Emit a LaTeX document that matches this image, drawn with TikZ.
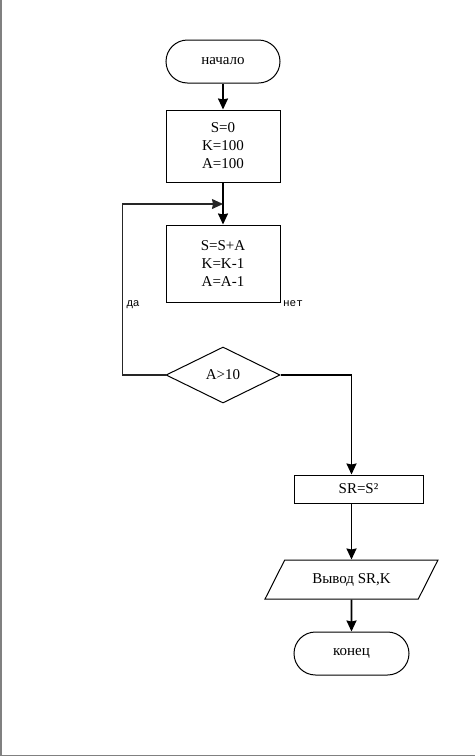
\documentclass[tikz,border=0pt]{standalone}
\usepackage{fontspec}
\setmainfont{Liberation Serif}
\setsansfont{Liberation Sans}
\setmonofont{Liberation Mono}
\usetikzlibrary{shapes.geometric, arrows.meta}

\begin{document}
\begin{tikzpicture}[x=1pt,y=-1pt,font=\fontsize{15}{18}\selectfont]
    \tikzstyle{arrow} = [line width=1.6pt,-{Stealth[length=11pt,width=10pt,inset=1pt]}]
    \tikzstyle{loopline} = [line width=1.2pt,draw=black!85]
    \tikzstyle{startstop} = [rectangle, rounded corners=21.5pt, minimum width=114pt, minimum height=43pt, text centered, draw=black, line width=1pt]
    \tikzstyle{process} = [rectangle, minimum width=114pt, align=center, draw=black, line width=1pt]
    \tikzstyle{decision} = [diamond, minimum width=114pt, minimum height=56pt, inner sep=0pt, draw=black, line width=1pt]
    \tikzstyle{io} = [trapezium, trapezium left angle=48, trapezium right angle=132, trapezium stretches=true, minimum width=173pt, minimum height=39pt, inner sep=0pt, draw=black, line width=1pt]
    \useasboundingbox (0,0) rectangle (475,756);
    \draw [gray, line width=1.5pt] (0.75,0) -- (0.75,755.25) -- (475,755.25);
    \node (start) [startstop] at (223,61.5) {начало};
    \node (init) [process, minimum height=72pt] at (223,146) {S=0\\K=100\\A=100};
    \node (body) [process, minimum height=77pt] at (223,263.5) {S=S+A\\K=K-1\\A=A-1};
    \node (cond) [decision] at (223,375) {A>10};
    \node (sq) [process, minimum width=129pt, minimum height=28pt] at (358.5,489) {SR=S²};
    \node (out) [io] at (351.5,579.5) {Вывод SR,K};
    \node (stop) [startstop, minimum width=115pt] at (351.5,653.5) {конец};
    \node (yes) [font=\sffamily\fontsize{11}{13}\selectfont] at (133,305) {да};
    \node (no) [font=\ttfamily\fontsize{11}{13}\selectfont] at (293,304) {нет};
    \coordinate (join) at (223,204);
    \draw [arrow] (start) -- (init);
    \draw [arrow] (init) -- (body);
    \draw [loopline, arrow, line width=1.2pt] (cond.west) -- ++(-43,0) |- (join);
    \draw [arrow] (cond.east) -| (out.north |- sq.north);
    \draw [arrow] (out.north |- sq.south) -- (out.north);
    \draw [arrow] (out.south) -- (stop.north);
\end{tikzpicture}
\end{document}
